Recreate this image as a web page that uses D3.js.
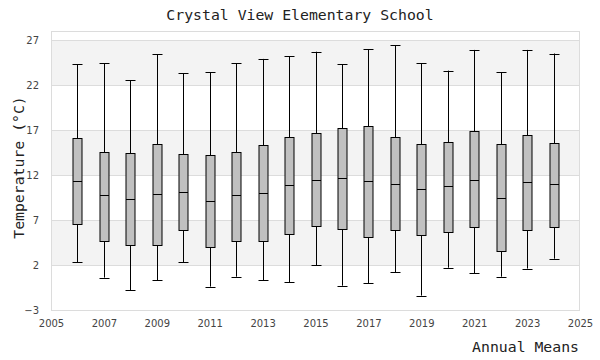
<!DOCTYPE html>
<html><head><meta charset="utf-8">
<script src="https://cdn.jsdelivr.net/npm/d3@7"></script>
<style>body{margin:0;background:#fff}</style>
</head><body>
<svg id="c" width="600" height="360"></svg>
<script>
const years = [2006,2007,2008,2009,2010,2011,2012,2013,2014,2015,2016,2017,2018,2019,2020,2021,2022,2023,2024];
const whiskerLow  = [2.3,0.6,-0.8,0.3,2.3,-0.4,0.7,0.3,0.1,2.0,-0.3,0.0,1.2,-1.4,1.7,1.1,0.7,1.6,2.7];
const q1          = [6.6,4.7,4.2,4.2,5.9,4.0,4.7,4.7,5.4,6.3,6.0,5.1,5.9,5.3,5.7,6.2,3.6,5.9,6.2];
const medians     = [11.3,9.8,9.3,9.9,10.1,9.1,9.8,10.0,10.9,11.5,11.7,11.3,11.0,10.4,10.8,11.5,9.5,11.2,11.0];
const q3          = [16.1,14.6,14.4,15.4,14.3,14.2,14.6,15.3,16.2,16.7,17.2,17.5,16.2,15.5,15.7,16.9,15.4,16.5,15.6];
const whiskerHigh = [24.3,24.4,22.5,25.4,23.3,23.4,24.4,24.9,25.2,25.7,24.3,26.0,26.4,24.4,23.6,25.9,23.4,25.9,25.5];
const xTicks = [2005,2007,2009,2011,2013,2015,2017,2019,2021,2023,2025];
const yTicks = [-3,2,7,12,17,22,27];

const svg = d3.select("#c");
const L=51, R=580, T=31, B=310;
const x = d3.scaleLinear().domain([2005,2025]).range([L,R]);
const y = d3.scaleLinear().domain([-3,28]).range([B,T]);

// bands
for (let i=0;i<yTicks.length-1;i++){
  const a=yTicks[i], b=yTicks[i+1];
  svg.append("rect").attr("x",L).attr("width",R-L)
    .attr("y",y(b)).attr("height",y(a)-y(b))
    .attr("fill", (i%2===1)? "#f3f3f3":"#ffffff");
}
// grid
svg.append("g").selectAll("line").data(yTicks).join("line")
  .attr("x1",L).attr("x2",R).attr("y1",d=>y(d)+0.5).attr("y2",d=>y(d)+0.5)
  .attr("stroke","#dcdcdc").attr("stroke-width",1);
// frame
svg.append("rect").attr("x",L+0.5).attr("y",T+0.5).attr("width",R-L-1).attr("height",B-T)
  .attr("fill","none").attr("stroke","#dcdcdc");

// axes
const ya = svg.append("g").attr("transform",`translate(${L-6},0)`)
  .call(d3.axisLeft(y).tickValues(yTicks).tickSize(0).tickPadding(6));
ya.select(".domain").remove();
ya.selectAll("text").attr("font-family","DejaVu Sans").attr("font-size",10).attr("fill","#444");
const xa = svg.append("g").attr("transform",`translate(0,${B+4})`)
  .call(d3.axisBottom(x).tickValues(xTicks).tickFormat(d3.format("d")).tickSize(0).tickPadding(6));
xa.select(".domain").remove();
xa.selectAll("text").attr("font-family","DejaVu Sans").attr("font-size",10).attr("fill","#444");

// boxes
const data = years.map((yr,i)=>({yr,lo:whiskerLow[i],q1:q1[i],med:medians[i],q3:q3[i],hi:whiskerHigh[i]}));
const bw = 9;
const g = svg.append("g");
const bx = g.selectAll("g").data(data).join("g");
bx.append("line").attr("x1",d=>Math.round(x(d.yr))+0.5).attr("x2",d=>Math.round(x(d.yr))+0.5)
  .attr("y1",d=>y(d.hi)).attr("y2",d=>y(d.lo)).attr("stroke","#000");
bx.append("line").attr("x1",d=>Math.round(x(d.yr))-bw/2).attr("x2",d=>Math.round(x(d.yr))+bw/2+1)
  .attr("y1",d=>Math.round(y(d.hi))+0.5).attr("y2",d=>Math.round(y(d.hi))+0.5).attr("stroke","#000");
bx.append("line").attr("x1",d=>Math.round(x(d.yr))-bw/2).attr("x2",d=>Math.round(x(d.yr))+bw/2+1)
  .attr("y1",d=>Math.round(y(d.lo))+0.5).attr("y2",d=>Math.round(y(d.lo))+0.5).attr("stroke","#000");
bx.append("rect").attr("x",d=>Math.round(x(d.yr))-bw/2+0.5).attr("width",bw)
  .attr("y",d=>Math.round(y(d.q3))+0.5).attr("height",d=>Math.round(y(d.q1))-Math.round(y(d.q3)))
  .attr("fill","#c0c0c0").attr("stroke","#000");
bx.append("line").attr("x1",d=>Math.round(x(d.yr))-bw/2+0.5).attr("x2",d=>Math.round(x(d.yr))+bw/2+0.5)
  .attr("y1",d=>Math.round(y(d.med))+0.5).attr("y2",d=>Math.round(y(d.med))+0.5).attr("stroke","#000");

// titles
const fs = 14.8;
svg.append("text").attr("x",300).attr("y",20).attr("text-anchor","middle")
  .attr("font-family","DejaVu Sans Mono").attr("font-size",fs).attr("fill","#222")
  .text("Crystal View Elementary School");
svg.append("text").attr("transform",`translate(24,${(T+B)/2-3}) rotate(-90)`).attr("text-anchor","middle")
  .attr("font-family","DejaVu Sans Mono").attr("font-size",fs).attr("fill","#222")
  .text("Temperature (°C)");
svg.append("text").attr("x",579).attr("y",352).attr("text-anchor","end")
  .attr("font-family","DejaVu Sans Mono").attr("font-size",fs).attr("fill","#222")
  .text("Annual Means");
</script>
</body></html>
